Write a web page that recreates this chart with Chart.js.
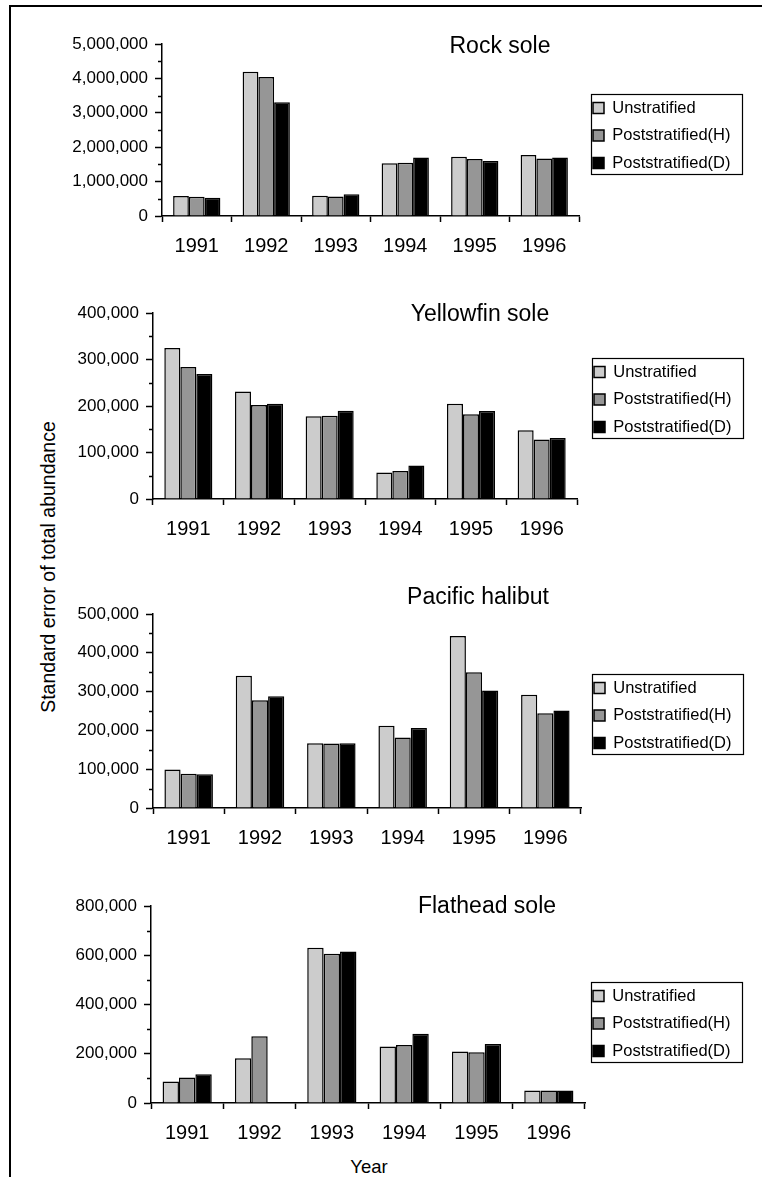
<!DOCTYPE html>
<html>
<head>
<meta charset="utf-8">
<script src="https://cdn.jsdelivr.net/npm/chart.js@4.4.1/dist/chart.umd.min.js"></script>
<style>
  html, body { margin: 0; padding: 0; background: #fff; }
  body { width: 762px; height: 1177px; position: relative; overflow: hidden;
         font-family: "Liberation Sans", Arial, Helvetica, sans-serif; color: #000; }
  #frame { position: absolute; left: 9px; top: 5px; right: -10px; bottom: -10px;
           border-left: 2px solid #000; border-top: 2px solid #000; }
  canvas.panel { position: absolute; left: 10px; }
  #ytitle { position: absolute; left: 48px; top: 567px; white-space: nowrap; font-size: 19.5px;
            transform: translate(-50%, -50%) rotate(-90deg); }
  #xtitle { position: absolute; left: 369px; top: 1167px; font-size: 18.5px;
            transform: translate(-50%, -50%); }
</style>
</head>
<body>
<div id="frame"></div>
<div id="ytitle">Standard error of total abundance</div>
<div id="xtitle">Year</div>
<script>
// ---- data -------------------------------------------------------------
const years = ['1991', '1992', '1993', '1994', '1995', '1996'];
const methodNames = ['Unstratified', 'Poststratified(H)', 'Poststratified(D)'];
const speciesNames = ['Rock sole', 'Yellowfin sole', 'Pacific halibut', 'Flathead sole'];

const rockUnstratified   = [580000, 4190000, 590000, 1530000, 1720000, 1770000];
const rockPoststratH     = [560000, 4040000, 570000, 1545000, 1660000, 1670000];
const rockPoststratD     = [530000, 3310000, 630000, 1700000, 1600000, 1700000];

const yellowfinUnstratified = [325000, 231000, 178000, 57000, 205000, 148000];
const yellowfinPoststratH   = [284000, 202000, 179000, 60000, 182000, 128000];
const yellowfinPoststratD   = [269000, 205000, 190000, 72000, 189000, 131000];

const halibutUnstratified = [99000, 341000, 167000, 212000, 443000, 292000];
const halibutPoststratH   = [88000, 278000, 166000, 182000, 350000, 244000];
const halibutPoststratD   = [87000, 288000, 167000, 206000, 303000, 251000];

const flatheadUnstratified = [87000, 182000, 630000, 229000, 209000, 51000];
const flatheadPoststratH   = [104000, 271000, 606000, 236000, 206000, 51000];
const flatheadPoststratD   = [117000, null, 615000, 281000, 240000, 51000];

const yMaxima = [5000000, 400000, 500000, 800000];
const yMajorSteps = [1000000, 100000, 100000, 200000];

const speciesSeries = [
  [rockUnstratified, rockPoststratH, rockPoststratD],
  [yellowfinUnstratified, yellowfinPoststratH, yellowfinPoststratD],
  [halibutUnstratified, halibutPoststratH, halibutPoststratD],
  [flatheadUnstratified, flatheadPoststratH, flatheadPoststratD]
];

// ---- styling & page geometry -----------------------------------------
const fills = ['#cccccc', '#969696', '#000000'];
const FONT = '"Liberation Sans", Arial, Helvetica, sans-serif';
Chart.defaults.font.family = FONT;
Chart.defaults.color = '#000';

const PAGE_LEFT = 10, CANVAS_W = 752, HEAD = 40, X_AXIS_H = 52;
const TITLE_SIZE = 23, LEGEND_SIZE = 16.5, LEGEND_GAP = 11;
const TICK_SIZE = 17, YEAR_SIZE = 20;
const LEGEND_W = 151, LEGEND_H = 80;

// axisX / plotRight: left & right of plot; top / zero: pixel rows of max and 0
const frames = [
  { axisX: 162, plotRight: 579, top: 44,  zero: 216,  titleX: 500, titleY: 47,  legendLeft: 591, legendTop: 94 },
  { axisX: 153, plotRight: 577, top: 313, zero: 499,  titleX: 480, titleY: 315, legendLeft: 592, legendTop: 358 },
  { axisX: 153, plotRight: 581, top: 614, zero: 808,  titleX: 478, titleY: 598, legendLeft: 592, legendTop: 674 },
  { axisX: 151, plotRight: 585, top: 906, zero: 1103, titleX: 487, titleY: 907, legendLeft: 591, legendTop: 982 }
];

// Places the title and legend, draws the legend frame and minor y ticks
const panelDecor = {
  id: 'panelDecor',
  afterLayout(chart, args, o) {
    const t = chart.titleBlock;
    if (t) {
      const lh = TITLE_SIZE * 1.2;
      t.left = o.titleX - 160; t.right = o.titleX + 160; t.width = 320;
      t.top = o.titleY - lh / 2; t.bottom = t.top + lh; t.height = lh;
    }
    const lg = chart.legend;
    if (lg) {
      lg.left = o.legendLeft + 2 - LEGEND_GAP;
      lg.right = lg.left + LEGEND_W + 20; lg.width = lg.right - lg.left;
      lg.top = o.legendTop + 14 - LEGEND_GAP - LEGEND_SIZE / 2;
      lg.bottom = lg.top + LEGEND_H + 20; lg.height = lg.bottom - lg.top;
    }
  },
  afterDraw(chart, args, o) {
    const ctx = chart.ctx;
    ctx.save();
    ctx.strokeStyle = '#000';
    ctx.lineWidth = 1.2;
    ctx.strokeRect(o.legendLeft + 0.5, o.legendTop + 0.5, LEGEND_W, LEGEND_H);
    const y = chart.scales.y;
    ctx.lineWidth = 1.3;
    ctx.beginPath();
    for (let v = o.minorStep; v < y.max; v += 2 * o.minorStep) {
      const py = Math.round(y.getPixelForValue(v)) + 0.5;
      ctx.moveTo(y.right - 4, py);
      ctx.lineTo(y.right, py);
    }
    ctx.stroke();
    ctx.restore();
  }
};

frames.forEach((f, i) => {
  const canvasTop = f.top - HEAD;
  const canvasH = HEAD + (f.zero - f.top) + X_AXIS_H;
  const cv = document.createElement('canvas');
  cv.className = 'panel';
  cv.width = CANVAS_W; cv.height = canvasH;
  cv.style.top = canvasTop + 'px';
  cv.style.width = CANVAS_W + 'px'; cv.style.height = canvasH + 'px';
  document.body.appendChild(cv);

  const plotRightLocal = f.plotRight - PAGE_LEFT;
  const yAxisWidth = f.axisX - PAGE_LEFT;

  new Chart(cv, {
    type: 'bar',
    data: {
      labels: years,
      datasets: methodNames.map((name, k) => ({
        label: name,
        data: speciesSeries[i][k],
        backgroundColor: fills[k],
        borderColor: '#000',
        borderWidth: 1.5,
        categoryPercentage: 0.68,
        barPercentage: 1.0
      }))
    },
    options: {
      responsive: false,
      animation: false,
      events: [],
      layout: { padding: { left: 0, top: HEAD - TITLE_SIZE * 1.2, bottom: 0,
                           right: CANVAS_W - 1 - plotRightLocal } },
      plugins: {
        title: { display: true, text: speciesNames[i], color: '#000', padding: 0,
                 font: { size: TITLE_SIZE, weight: 'normal' } },
        legend: {
          display: true, position: 'right', align: 'start', maxWidth: 1,
          labels: { boxWidth: 11, boxHeight: 11, padding: LEGEND_GAP, color: '#000',
                    font: { size: LEGEND_SIZE } }
        },
        tooltip: { enabled: false },
        panelDecor: {
          titleX: f.titleX - PAGE_LEFT, titleY: f.titleY - canvasTop,
          legendLeft: f.legendLeft - PAGE_LEFT, legendTop: f.legendTop - canvasTop,
          minorStep: yMajorSteps[i] / 2
        }
      },
      scales: {
        x: {
          grid: { display: true, drawOnChartArea: false, drawTicks: true, offset: true,
                  tickLength: 6, tickWidth: 1.5, tickColor: '#000' },
          border: { display: true, color: '#000', width: 1.5 },
          ticks: { color: '#000', font: { size: YEAR_SIZE }, padding: 12, maxRotation: 0 },
          afterFit(s) { s.height = X_AXIS_H; }
        },
        y: {
          min: 0, max: yMaxima[i],
          grid: { display: true, drawOnChartArea: false, drawTicks: true,
                  tickLength: 7, tickWidth: 1.5, tickColor: '#000' },
          border: { display: true, color: '#000', width: 1.5 },
          ticks: { stepSize: yMajorSteps[i], color: '#000', font: { size: TICK_SIZE }, padding: 7,
                   callback: v => Number(v).toLocaleString('en-US') },
          afterFit(s) { s.width = yAxisWidth; }
        }
      }
    },
    plugins: [panelDecor]
  });
});
</script>
</body>
</html>
